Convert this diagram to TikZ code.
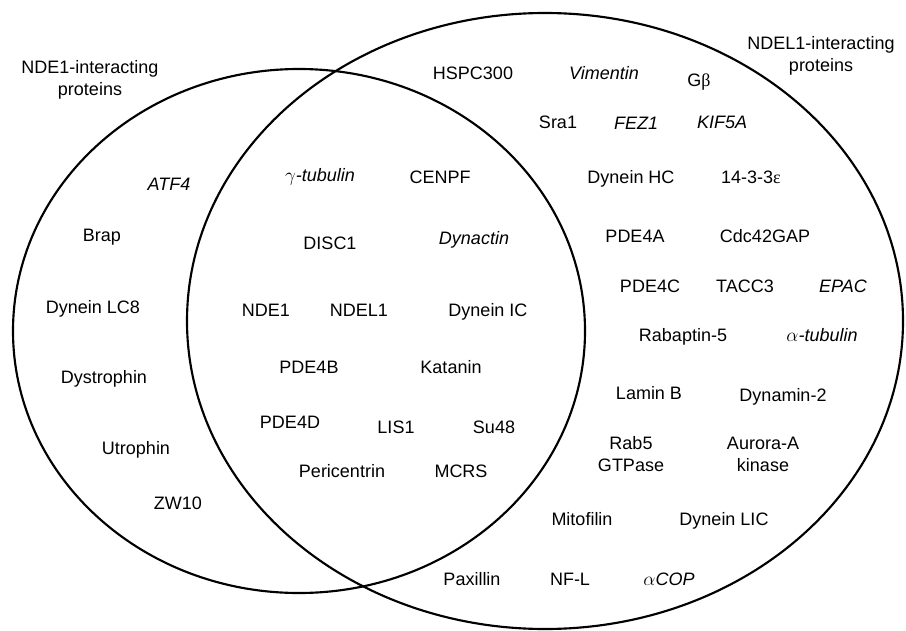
\documentclass[tikz,border=0pt]{standalone}
\usepackage{fontspec}
\setmainfont{Liberation Sans}
\newfontfamily\symfont{Liberation Serif}
\usepackage{tikz}

\begin{document}
\begin{tikzpicture}[x=0.75pt,y=-0.75pt]
    \tikzset{prot/.style = {font=\fontsize{13.5}{16.5}\selectfont, align=center, inner sep=0pt, text height=9.7pt, text depth=0pt}}
    \tikzset{iprot/.style = {prot, font=\fontsize{13.5}{16.5}\selectfont\itshape}}
    \tikzset{set/.style = {draw, line width=1.6pt}}
    \useasboundingbox (0,0) rectangle (906,631);
    % the two sets
    \draw[set] (299,331) ellipse [x radius=214.5pt, y radius=196.5pt];
    \draw[set] (545,321) ellipse [x radius=268.5pt, y radius=231pt];
    % titles (placed by their last line)
    \node[prot] (tl) at (90,89) {NDE1-interacting\\proteins};
    \node[prot] (tr) at (821,65) {NDEL1-interacting\\proteins};
    % NDE1 only
    \node[iprot] (atf) at (169,184) {ATF4};
    \node[prot] (brap) at (102,235) {Brap};
    \node[prot] (lc8) at (93,307) {Dynein LC8};
    \node[prot] (dys) at (104,377) {Dystrophin};
    \node[prot] (utr) at (136,448) {Utrophin};
    \node[prot] (zw) at (178,503) {ZW10};
    % both
    \node[prot] (gtub) at (320,175) {$\gamma$\textit{-tubulin}};
    \node[prot] (cenpf) at (440,177) {CENPF};
    \node[prot] (disc) at (330,243) {DISC1};
    \node[iprot] (dyna) at (474,238) {Dynactin};
    \node[prot] (nde) at (266,310) {NDE1};
    \node[prot] (ndel) at (359,310) {NDEL1};
    \node[prot] (dic) at (488,310) {Dynein IC};
    \node[prot] (pb) at (309,367) {PDE4B};
    \node[prot] (kat) at (451,367) {Katanin};
    \node[prot] (pd) at (290,422) {PDE4D};
    \node[prot] (lis) at (396,427) {LIS1};
    \node[prot] (su) at (494,427) {Su48};
    \node[prot] (peri) at (342,471) {Pericentrin};
    \node[prot] (mcrs) at (461,471) {MCRS};
    % NDEL1 only
    \node[prot] (hspc) at (473,73) {HSPC300};
    \node[iprot] (vim) at (604,73) {Vimentin};
    \node[prot] (gb) at (699,80) {G{\symfont β}};
    \node[prot] (sra) at (558,122) {Sra1};
    \node[iprot] (fez) at (636,123) {FEZ1};
    \node[iprot] (kif) at (722,122) {KIF5A};
    \node[prot] (dhc) at (631,177) {Dynein HC};
    \node[prot] (eps) at (751,177) {14-3-3{\symfont ε}};
    \node[prot] (pa) at (635,236) {PDE4A};
    \node[prot] (cdc) at (765,236) {Cdc42GAP};
    \node[prot] (pc) at (650,286) {PDE4C};
    \node[prot] (tacc) at (745,286) {TACC3};
    \node[iprot] (epac) at (843,286) {EPAC};
    \node[prot] (rab) at (683,335) {Rabaptin-5};
    \node[prot] (atub) at (822,335) {$\alpha$\textit{-tubulin}};
    \node[prot] (lam) at (649,393) {Lamin B};
    \node[prot] (dyn2) at (783,395) {Dynamin-2};
    \node[prot] (rab5) at (631,465) {Rab5\\GTPase};
    \node[prot] (aur) at (763,465) {Aurora-A\\kinase};
    \node[prot] (mito) at (582,519) {Mitofilin};
    \node[prot] (lic) at (724,519) {Dynein LIC};
    \node[prot] (pax) at (472,579) {Paxillin};
    \node[prot] (nfl) at (570,579) {NF-L};
    \node[prot] (cop) at (669,579) {$\alpha$\textit{COP}};
\end{tikzpicture}
\end{document}
